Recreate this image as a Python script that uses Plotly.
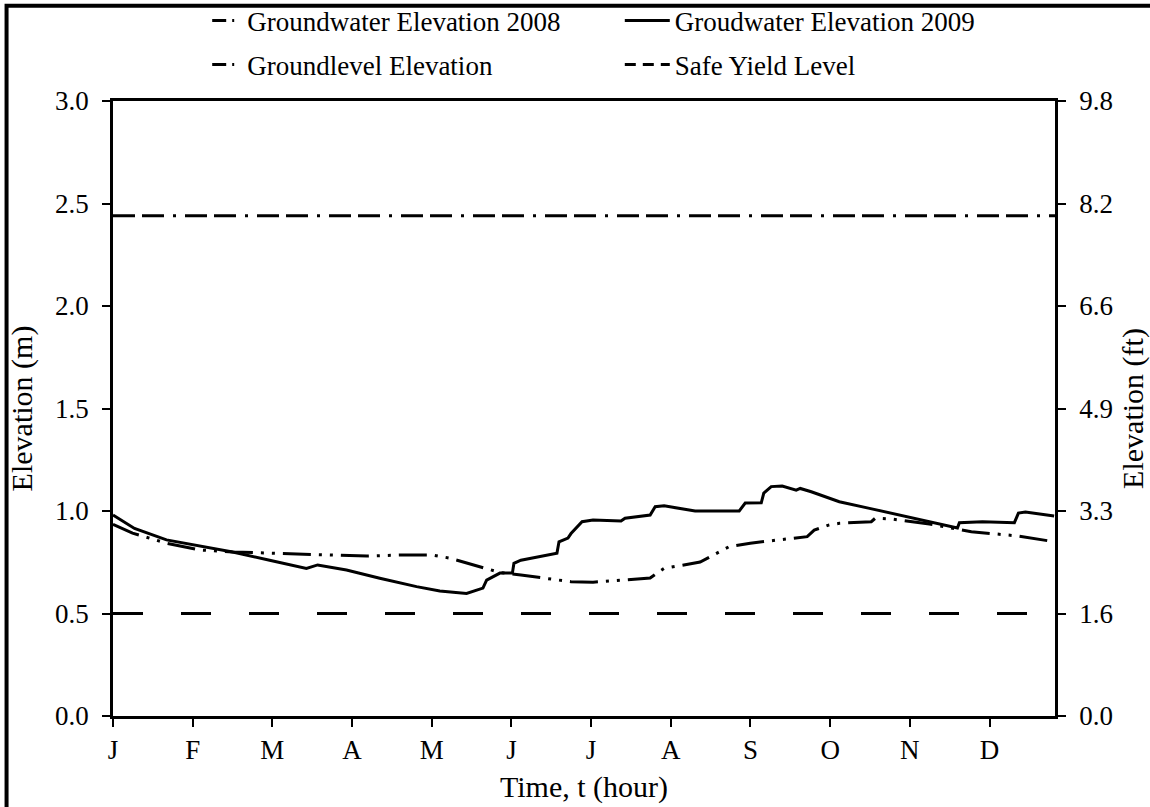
import plotly.graph_objects as go

# ---------------- data ----------------
month_labels = ["J", "F", "M", "A", "M", "J", "J", "A", "S", "O", "N", "D"]
month_hours = [0, 730, 1460, 2190, 2920, 3650, 4380, 5110, 5840, 6570, 7300, 8030]

gw2009_t = [0, 197, 490, 793, 1096, 1435, 1772, 1875, 1986, 2139, 2444, 2781, 2994, 3239,
            3389, 3423, 3545, 3659, 3673, 3737, 4067, 4086, 4168, 4196, 4297, 4398, 4654,
            4691, 4921, 4967, 5049, 5333, 5737, 5792, 5939, 5962, 6030, 6131, 6259, 6296,
            6397, 6654, 6920, 7277, 7736, 7754, 7965, 8258, 8295, 8359, 8622]
gw2009_m = [0.98, 0.915, 0.859, 0.828, 0.80, 0.76, 0.72, 0.737, 0.725, 0.712, 0.672, 0.631,
            0.61, 0.598, 0.624, 0.663, 0.697, 0.697, 0.745, 0.76, 0.794, 0.85, 0.868, 0.89,
            0.948, 0.956, 0.951, 0.965, 0.98, 1.021, 1.025, 1.0, 1.0, 1.039, 1.04, 1.087,
            1.119, 1.122, 1.102, 1.11, 1.094, 1.045, 1.014, 0.972, 0.917, 0.943, 0.948,
            0.943, 0.99, 0.995, 0.976]

gw2008_t = [0, 179, 490, 793, 1096, 1711, 2013, 2325, 2628, 2930, 3086, 3389, 3545, 3737,
            4003, 4196, 4398, 4654, 4921, 5003, 5049, 5379, 5645, 5838, 6296, 6360, 6424,
            6562, 6654, 6947, 6984, 7149, 7479, 7864, 8295, 8622]
gw2008_m = [0.935, 0.892, 0.843, 0.81, 0.80, 0.79, 0.782, 0.78, 0.785, 0.785, 0.77, 0.723,
            0.70, 0.688, 0.668, 0.655, 0.653, 0.663, 0.673, 0.704, 0.72, 0.751, 0.826, 0.843,
            0.868, 0.875, 0.907, 0.932, 0.94, 0.948, 0.965, 0.96, 0.937, 0.899, 0.878, 0.85]

ground_t = [0, 8630]
ground_m = [2.44, 2.44]
safe_t = [0, 8630]
safe_m = [0.5, 0.5]

y_ticks_m = [0.0, 0.5, 1.0, 1.5, 2.0, 2.5, 3.0]
y_ticks_ft = ["0.0", "1.6", "3.3", "4.9", "6.6", "8.2", "9.8"]

# ---------------- figure ----------------
FONT = "Liberation Serif"
TICK_SIZE = 27
TITLE_SIZE = 30
LEG_SIZE = 27
fig = go.Figure()

DASH_2008 = "28px,8px,3px,8px,3px,8px"
DASH_GROUND = "22px,7px,22px,9px,3px,9px"
DASH_SAFE = "30px,38px"

# plotted lines (legend entries are drawn by the legend-only traces below)
fig.add_trace(go.Scatter(x=gw2008_t, y=gw2008_m, mode="lines", showlegend=False,
                         line=dict(color="black", width=3, dash=DASH_2008)))
fig.add_trace(go.Scatter(x=ground_t, y=ground_m, mode="lines", showlegend=False,
                         line=dict(color="black", width=3, dash=DASH_GROUND)))
fig.add_trace(go.Scatter(x=gw2009_t, y=gw2009_m, mode="lines", showlegend=False,
                         line=dict(color="black", width=3)))
fig.add_trace(go.Scatter(x=safe_t, y=safe_m, mode="lines", showlegend=False,
                         line=dict(color="black", width=3, dash=DASH_SAFE)))

# legend entries
fig.add_trace(go.Scatter(x=[None], y=[None], mode="lines",
                         name="Groundwater Elevation 2008", legend="legend", legendgroup="a",
                         line=dict(color="black", width=3, dash="14px,6px,2px,30px")))
fig.add_trace(go.Scatter(x=[None], y=[None], mode="lines",
                         name="Groundlevel Elevation", legend="legend", legendgroup="b",
                         line=dict(color="black", width=3, dash="14px,6px,2px,30px")))
fig.add_trace(go.Scatter(x=[None], y=[None], mode="lines",
                         name="Groudwater Elevation 2009", legend="legend2", legendgroup="c",
                         line=dict(color="black", width=3)))
fig.add_trace(go.Scatter(x=[None], y=[None], mode="lines",
                         name="Safe Yield Level", legend="legend2", legendgroup="d",
                         line=dict(color="black", width=3, dash="11px,7px")))

# invisible trace to hold right axis
fig.add_trace(go.Scatter(x=[0], y=[0], yaxis="y2", mode="lines", showlegend=False,
                         hoverinfo="skip", line=dict(color="rgba(0,0,0,0)")))

axis_common = dict(showline=True, linecolor="black", linewidth=2.5, ticks="outside",
                   ticklen=8, tickwidth=2, tickcolor="black", showgrid=False, zeroline=False,
                   tickfont=dict(family=FONT, size=TICK_SIZE, color="black"))

fig.update_layout(
    width=1150, height=807,
    margin=dict(l=113, r=95, t=101, b=91, autoexpand=False),
    paper_bgcolor="white", plot_bgcolor="white",
    font=dict(family=FONT, color="black"),
    xaxis=dict(range=[0, 8630], tickvals=month_hours, ticktext=month_labels, mirror=True,
               automargin=False,
               title=dict(text="Time, t (hour)", font=dict(family=FONT, size=TITLE_SIZE),
                          standoff=12),
               **axis_common),
    yaxis=dict(range=[0, 3.0], tickvals=y_ticks_m, ticktext=[f"{v:.1f}" for v in y_ticks_m],
               ticklabelstandoff=8, automargin=False,
               title=dict(text="Elevation (m)", font=dict(family=FONT, size=TITLE_SIZE),
                          standoff=14),
               **axis_common),
    yaxis2=dict(range=[0, 3.0], overlaying="y", side="right", tickvals=y_ticks_m,
                ticktext=y_ticks_ft, ticklabelstandoff=8, automargin=False,
                title=dict(text="Elevation (ft)", font=dict(family=FONT, size=TITLE_SIZE),
                           standoff=12),
                **axis_common),
    legend=dict(x=0.1, y=1.17, xanchor="left", yanchor="top", orientation="v",
                font=dict(family=FONT, size=LEG_SIZE), tracegroupgap=6,
                bgcolor="rgba(0,0,0,0)"),
    legend2=dict(x=0.538, y=1.17, xanchor="left", yanchor="top", orientation="v",
                 font=dict(family=FONT, size=LEG_SIZE), tracegroupgap=6, itemwidth=45,
                 bgcolor="rgba(0,0,0,0)"),
    shapes=[dict(type="rect", xref="paper", yref="paper", x0=-0.113, x1=1.2, y0=-0.3, y1=1.155,
                 line=dict(color="black", width=4), layer="above")],
    showlegend=True,
)

fig.write_html("out.html")
